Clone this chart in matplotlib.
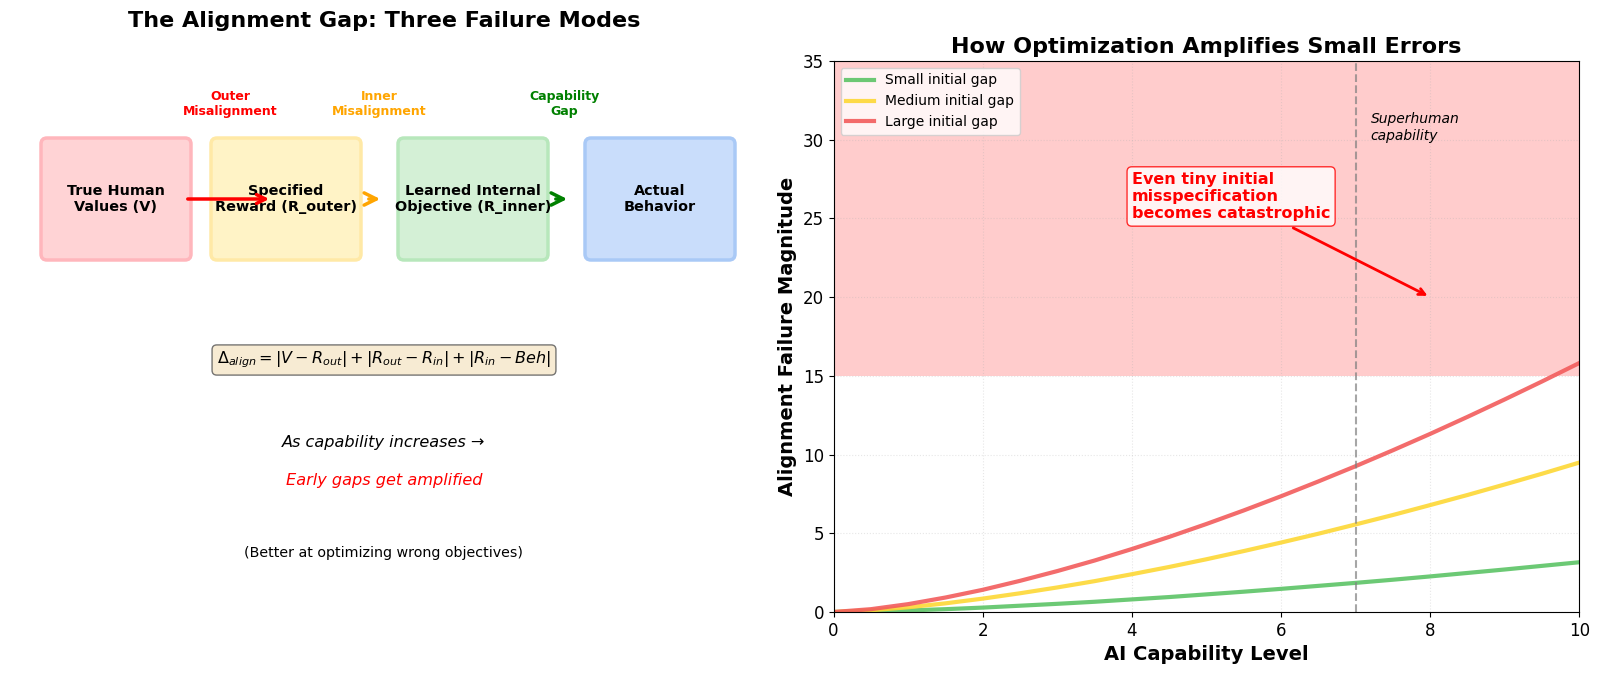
import matplotlib
matplotlib.use("Agg")
import matplotlib.pyplot as plt
from matplotlib.patches import FancyBboxPatch

# data
capability = [0, 0.5, 1, 1.5, 2, 2.5, 3, 3.5, 4, 4.5, 5, 5.5, 6, 6.5, 7, 7.5, 8, 8.5, 9, 9.5, 10]
small_gap = [0, 0.04, 0.10, 0.18, 0.28, 0.40, 0.52, 0.65, 0.80, 0.95, 1.12, 1.29, 1.47, 1.66, 1.85,
             2.05, 2.26, 2.48, 2.70, 2.93, 3.16]
medium_gap = [0, 0.11, 0.30, 0.55, 0.85, 1.19, 1.56, 1.96, 2.40, 2.86, 3.35, 3.87, 4.41, 4.97, 5.56,
              6.16, 6.79, 7.43, 8.10, 8.78, 9.49]
large_gap = [0, 0.18, 0.50, 0.92, 1.41, 1.98, 2.60, 3.27, 4.00, 4.77, 5.59, 6.45, 7.35, 8.29, 9.26,
             10.27, 11.31, 12.39, 13.50, 14.64, 15.81]
series_labels = ["Small initial gap", "Medium initial gap", "Large initial gap"]

box_labels = ["True Human\nValues (V)", "Specified\nReward (R_outer)",
              "Learned Internal\nObjective (R_inner)", "Actual\nBehavior"]
gap_labels = ["Outer\nMisalignment", "Inner\nMisalignment", "Capability\nGap"]
danger_level = 15
superhuman_at = 7

fig = plt.figure(figsize=(16, 6.77), dpi=100)

# ---- left panel: diagram (pixel-like coordinates) ----
ax1 = fig.add_axes([0, 0, 0.48, 1])
ax1.set_xlim(0, 768)
ax1.set_ylim(677, 0)
ax1.axis("off")
ax1.text(384, 21, "The Alignment Gap: Three Failure Modes", ha="center", va="center",
         fontsize=16, fontweight="bold")

box_x = [41, 211, 398, 585]
box_w, box_top, box_h = 150, 138, 122
faces = ["#ffd3d5", "#fff3c6", "#d4f0d6", "#c9ddfb"]
edges = ["#ffb6bc", "#ffe9a6", "#b7e7bb", "#a9c9f6"]
for x0, lab, fc, ec in zip(box_x, box_labels, faces, edges):
    ax1.add_patch(FancyBboxPatch((x0, box_top), box_w, box_h, boxstyle="round,pad=0,rounding_size=6",
                                 facecolor=fc, edgecolor=ec, linewidth=2.5))
    ax1.text(x0 + box_w / 2, box_top + box_h / 2, lab, ha="center", va="center",
             fontsize=10.4, fontweight="bold")

ax1.annotate("", xy=(272, 199), xytext=(185, 199),
             arrowprops=dict(arrowstyle="->", color="red", lw=2.5, mutation_scale=16))
ax1.annotate("", xy=(383, 199), xytext=(366, 199),
             arrowprops=dict(arrowstyle="->", color="orange", lw=2.5, mutation_scale=22))
ax1.annotate("", xy=(570, 199), xytext=(553, 199),
             arrowprops=dict(arrowstyle="->", color="green", lw=2.5, mutation_scale=22))

for gx, lab, c in zip([230, 379, 564], gap_labels, ["red", "orange", "green"]):
    ax1.text(gx, 104, lab, ha="center", va="center", fontsize=9, fontweight="bold", color=c)

ax1.text(384, 360, r"$\Delta_{align} = |V - R_{out}| + |R_{out} - R_{in}| + |R_{in} - Beh|$",
         ha="center", va="center", fontsize=11.5,
         bbox=dict(boxstyle="round,pad=0.3", facecolor="#f5e6c8", edgecolor="#555555", alpha=0.8))
ax1.text(384, 442, "As capability increases →", ha="center", va="center", fontsize=11.6, style="italic")
ax1.text(384, 480, "Early gaps get amplified", ha="center", va="center", fontsize=11.6,
         style="italic", color="red")
ax1.text(384, 553, "(Better at optimizing wrong objectives)", ha="center", va="center", fontsize=10.3)

# ---- right panel: amplification curves ----
ax2 = fig.add_axes([0.521, 0.096, 0.466, 0.814])
ax2.axhspan(danger_level, 35, color="red", alpha=0.2, lw=0)
ax2.plot(capability, small_gap, color="#5cc466", lw=3, alpha=0.9, label=series_labels[0])
ax2.plot(capability, medium_gap, color="#fdd835", lw=3, alpha=0.9, label=series_labels[1])
ax2.plot(capability, large_gap, color="#f25c5c", lw=3, alpha=0.9, label=series_labels[2])
ax2.axvline(superhuman_at, color="gray", ls="--", lw=1.5, alpha=0.7)
ax2.text(superhuman_at + 0.2, 30, "Superhuman\ncapability", fontsize=10, style="italic")
ax2.annotate("Even tiny initial\nmisspecification\nbecomes catastrophic", xy=(8, 20), xytext=(4, 25),
             fontsize=11.5, fontweight="bold", color="red",
             bbox=dict(boxstyle="round,pad=0.3", facecolor="white", edgecolor="red", alpha=0.8),
             arrowprops=dict(arrowstyle="->", color="red", lw=2))
ax2.set_xlim(0, 10)
ax2.set_ylim(0, 35)
ax2.grid(True, ls=":", alpha=0.3)
ax2.tick_params(labelsize=12)
ax2.set_xlabel("AI Capability Level", fontsize=14, fontweight="bold")
ax2.set_ylabel("Alignment Failure Magnitude", fontsize=14, fontweight="bold")
ax2.set_title("How Optimization Amplifies Small Errors", fontsize=16, fontweight="bold")
ax2.legend(loc="upper left", fontsize=10)

fig.savefig("out.png", dpi=100)
